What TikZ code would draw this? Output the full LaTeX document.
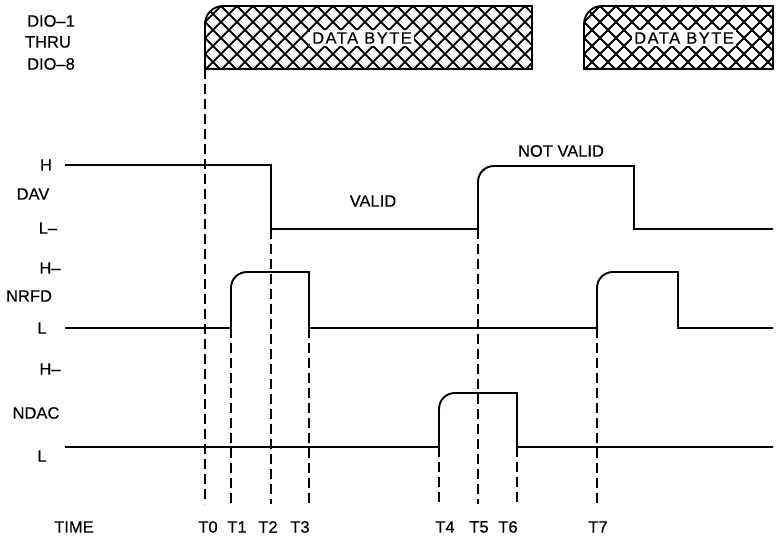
\documentclass[tikz,border=0pt]{standalone}
\usepackage{fontspec}
\setmainfont{Liberation Sans}[FakeBold=0.4]
\begin{document}
\begin{tikzpicture}[x=1pt,y=-1pt,
  lbl/.style={font=\fontsize{16.5}{19}\selectfont, anchor=center, inner sep=0pt},
  dbyte/.style={font=\fontsize{16.5}{19}\selectfont\addfontfeature{LetterSpace=9}, fill=white, inner sep=2.5pt, anchor=center},
  sig/.style={line width=1.9pt, line join=miter},
  tline/.style={line width=1.4pt, dash pattern=on 10pt off 5pt},
  hatch/.style={line width=2pt},
  boxedge/.style={line width=1.8pt}]
\useasboundingbox (0,0) rectangle (777,537);

% ---- DIO labels
\node[lbl] (dio1) at (51,21) {DIO–1};
\node[lbl] (thru) at (48,42) {THRU};
\node[lbl] (dio8) at (51,64) {DIO–8};

% ---- data byte 1
\begin{scope}
  \clip (205,69) -- (205,24) .. controls (205,14) and (213,6) .. (223,6) -- (532,6) -- (532,69) -- cycle;
  \foreach \k in {-6,...,22} {
    \draw[hatch] ({205+16*\k},6) -- ++(64,64);
    \draw[hatch] ({205+16*\k},70) -- ++(64,-64);
  }
\end{scope}
\draw[boxedge] (205,69) -- (205,24) .. controls (205,14) and (213,6) .. (223,6) -- (532,6) -- (532,69) -- cycle;
\node[dbyte] (db1) at (362,38) {DATA BYTE};

% ---- data byte 2
\begin{scope}
  \clip (584,69) -- (584,24) .. controls (584,14) and (592,6) .. (602,6) -- (773,6) -- (773,69) -- cycle;
  \foreach \k in {-6,...,13} {
    \draw[hatch] ({584+16*\k},6) -- ++(64,64);
    \draw[hatch] ({584+16*\k},70) -- ++(64,-64);
  }
\end{scope}
\draw[boxedge] (584,69) -- (584,24) .. controls (584,14) and (592,6) .. (602,6) -- (773,6) -- (773,69) -- cycle;
\node[dbyte] (db2) at (684,38) {DATA BYTE};

% ---- DAV
\node[lbl] (davh) at (46,165) {H};
\node[lbl] (dav) at (33,194) {DAV};
\node[lbl] (davl) at (48,228) {L–};
\node[lbl] (valid) at (373,201) {VALID};
\node[lbl] (nvalid) at (561,151) {NOT VALID};
\draw[sig] (65,165) -- (271,165) -- (271,229) -- (478,229) -- (478,182)
  .. controls (478,173) and (485,166) .. (494,166) -- (634,166) -- (634,229) -- (773,229);

% ---- NRFD
\node[lbl] (nrfdh) at (50,268) {H–};
\node[lbl] (nrfd) at (29,296) {NRFD};
\node[lbl] (nrfdl) at (42,328) {L};
\draw[sig] (65,328) -- (231,328) -- (231,288) .. controls (231,279) and (238,272) .. (247,272)
  -- (309,272) -- (309,328) -- (597,328) -- (597,288) .. controls (597,279) and (604,272) .. (613,272)
  -- (678,272) -- (678,328) -- (773,328);

% ---- NDAC
\node[lbl] (ndach) at (50,369) {H–};
\node[lbl] (ndac) at (36,413) {NDAC};
\node[lbl] (ndacl) at (42,456) {L};
\draw[sig] (65,447) -- (439,447) -- (439,409) .. controls (439,400) and (446,393) .. (455,393)
  -- (517,393) -- (517,447) -- (773,447);

% ---- time labels
\node[lbl] (time) at (74,527) {TIME};
\node[lbl] (t0) at (208,527) {T0};
\node[lbl] (t1) at (237,527) {T1};
\node[lbl] (t2) at (268,527) {T2};
\node[lbl] (t3) at (300,527) {T3};
\node[lbl] (t4) at (445,527) {T4};
\node[lbl] (t5) at (479,527) {T5};
\node[lbl] (t6) at (508,527) {T6};
\node[lbl] (t7) at (598,527) {T7};

% ---- dashed time markers
\coordinate (a0) at (205,69);  \coordinate (b0) at (205,504);
\coordinate (a1) at (231,328); \coordinate (b1) at (231,504);
\coordinate (a2) at (271,229); \coordinate (b2) at (271,504);
\coordinate (a3) at (309,328); \coordinate (b3) at (309,504);
\coordinate (a4) at (439,447); \coordinate (b4) at (439,504);
\coordinate (a5) at (478,229); \coordinate (b5) at (478,504);
\coordinate (a6) at (517,447); \coordinate (b6) at (517,504);
\coordinate (a7) at (597,328); \coordinate (b7) at (597,504);
\foreach \i in {0,...,7} { \draw[tline] (a\i) -- (b\i); }
\end{tikzpicture}
\end{document}
